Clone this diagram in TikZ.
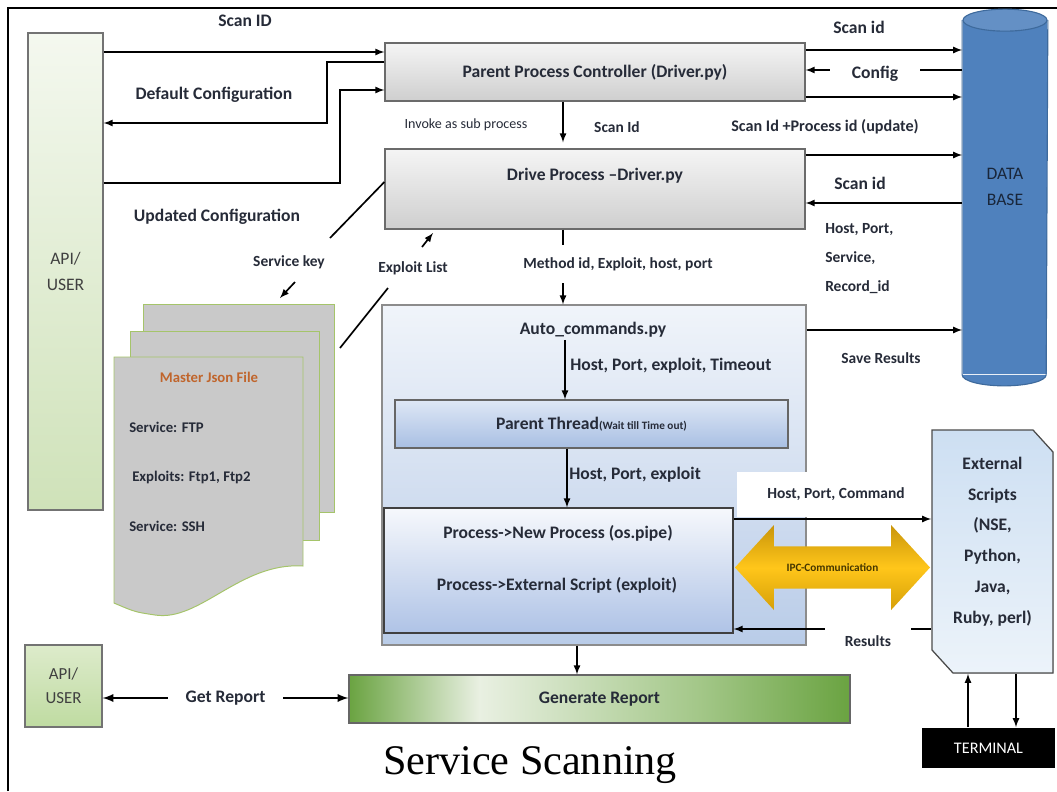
\documentclass[tikz,border=0pt]{standalone}
\usepackage{fontspec}
\setmainfont{Carlito}
\newfontfamily\titlefont{Liberation Serif}
\usetikzlibrary{positioning,shapes.arrows}
\definecolor{txt}{HTML}{262B38}
\definecolor{dbblue}{HTML}{4F81BD}
\definecolor{dbedge}{HTML}{3E6A9C}
\definecolor{jsonorange}{HTML}{C0652C}
\definecolor{jsonedge}{HTML}{A5C46A}
\definecolor{grdark}{HTML}{6AA341}
\definecolor{grlight}{HTML}{E9F0E2}
\definecolor{grmid}{HTML}{A3C788}
\pgfdeclarehorizontalshading{grshade}{100bp}{color(0bp)=(grdark); color(25bp)=(grdark); color(38bp)=(grlight); color(60bp)=(grmid); color(75bp)=(grdark); color(100bp)=(grdark)}
\begin{document}
\begin{tikzpicture}[x=0.25mm,y=-0.25mm,line width=1.2pt,
  arr/.style={-latex},
  arrtwo/.style={latex-latex,line width=1.6pt},
  bigl/.style={font=\fontsize{12.5}{15}\selectfont\bfseries,text=txt,inner sep=1pt},
  lbl/.style={font=\fontsize{11}{13}\selectfont\bfseries,text=txt,inner sep=1pt},
  smalll/.style={font=\fontsize{10}{12}\selectfont,text=txt,inner sep=1pt},
  greybox/.style={draw=black!58,line width=0.9pt,top color=black!4,bottom color=black!19,minimum width=105mm},
  apibox/.style={draw=black!55,line width=0.9pt,top color={rgb,255:red,244;green,248;blue,239},bottom color={rgb,255:red,207;green,226;blue,185},align=center,font=\fontsize{12.5}{18}\selectfont,text=black!75},
  autobox/.style={draw=black!45,line width=0.9pt,top color={rgb,255:red,240;green,244;blue,250},bottom color={rgb,255:red,185;green,204;blue,232}},
  thrbox/.style={draw=black!60,line width=0.9pt,top color={rgb,255:red,222;green,231;blue,245},bottom color={rgb,255:red,168;green,191;blue,227}},
  procbox/.style={draw=black!75,line width=0.9pt,top color={rgb,255:red,246;green,248;blue,252},bottom color={rgb,255:red,175;green,195;blue,230}},
  extshape/.style={draw=black!70,line width=0.9pt,top color={rgb,255:red,205;green,223;blue,242},bottom color={rgb,255:red,236;green,243;blue,250}},
  exttext/.style={align=center,font=\fontsize{12.5}{22}\selectfont\bfseries,text=txt},
  ipcarrow/.style={double arrow,double arrow head extend=5.25mm,double arrow tip angle=95,minimum height=48.75mm,minimum width=21.25mm,inner xsep=0pt,inner ysep=4mm,top color={rgb,255:red,201;green,149;blue,10},bottom color={rgb,255:red,214;green,160;blue,8},middle color={rgb,255:red,255;green,198;blue,26},font=\fontsize{8}{9}\selectfont\bfseries,text={rgb,255:red,70;green,55;blue,0}},
  jsonpage/.style={fill=black!21,draw=jsonedge,line width=0.7pt},
  jsontext/.style={font=\fontsize{10.5}{12}\selectfont\bfseries,text=txt,inner sep=1pt,anchor=west}]
\useasboundingbox (0,0) rectangle (1057,791);
\draw[line width=0.7mm] (8,791) -- (8,8) -- (1057,8);

% boxes
\node[apibox,minimum width=18.75mm,minimum height=119.25mm] (api) at (65.5,271.5) {API/\\USER};
\node[greybox,minimum height=14.5mm,bigl] (ppc) at (595,72) {Parent Process Controller (Driver.py)};
\node[greybox,minimum height=20mm] (drv) at (595,189) {};
\node[bigl] (drvtxt) at (595,176) {Drive Process –Driver.py};

% data base
\node[fill=dbblue,minimum width=21mm,minimum height=88.25mm,inner sep=0pt] (db) at (1005,197.5) {};
\fill[dbblue] (db.south west) arc (180:360:10.5mm and 2.75mm) -- cycle;
\draw[dbedge,line width=0.8pt] (db.north west) -- (db.south west) arc (180:360:10.5mm and 2.75mm) -- (db.north east);
\draw[dbedge,line width=0.8pt,fill=dbblue!88!white] (db.north) ellipse (10.5mm and 2.75mm);
\node[font=\fontsize{12.5}{18}\selectfont,text={rgb,255:red,25;green,38;blue,58},align=center] (dbtxt) at (1005,187) {DATA\\BASE};

% master json file
\filldraw[jsonpage] (143,304) rectangle (334,512);
\filldraw[jsonpage] (130,331) rectangle (319,540);
\filldraw[jsonpage] (114,357) -- (303,357) -- (303,566) .. controls (240,562) and (200,622) .. (155,615) .. controls (135,612) .. (114,603) -- cycle;
\node[font=\fontsize{10.5}{12}\selectfont\bfseries,text=jsonorange] (jsontitle) at (209,377) {Master Json File};
\node[jsontext] (jsonA) at (127,427) {Service: FTP};
\node[jsontext] (jsonB) at (130,477) {Exploits: Ftp1, Ftp2};
\node[jsontext] (jsonC) at (127,526) {Service: SSH};

% auto commands
\node[autobox,minimum width=106mm,minimum height=85mm] (auto) at (594,475) {};
\node[bigl] (autotxt) at (593,330) {Auto\_commands.py};
\node[thrbox,minimum width=98.25mm,minimum height=12mm,bigl] (thr) at (591.5,424) {Parent Thread{\fontsize{8}{9}\selectfont(Wait till Time out)}};
\node[fill=white,minimum width=49.5mm,minimum height=11.25mm,lbl] (hpc) at (836,494.5) {Host, Port, Command};
\node[procbox,minimum width=87.25mm,minimum height=31.25mm] (proc) at (558.5,570.5) {};
\node[bigl] (procA) at (558,533) {Process->New Process (os.pipe)};
\node[bigl] (procB) at (557,585) {Process->External Script (exploit)};
\node[ipcarrow] (ipc) at (832.5,567.5) {IPC-Communication};

% external side
\filldraw[extshape] (932,430) -- (1033,430) -- (1053,452) -- (1053,673) -- (953,673) -- (932,650) -- cycle;
\node[exttext,minimum width=30.25mm,minimum height=60.75mm] (ext) at (992.5,551.5) {External\\Scripts\\(NSE,\\Python,\\Java,\\Ruby, perl)\\[-6pt]\mbox{}};
\node[fill=black,minimum width=33.25mm,minimum height=10mm,text=white,font=\fontsize{11.5}{13}\selectfont] (term) at (988.5,748) {TERMINAL};
\node[shading=grshade,draw=black!60,line width=0.9pt,minimum width=125.25mm,minimum height=12mm,bigl] (gr) at (599.5,699) {Generate Report};
\node[apibox,minimum width=19.25mm,minimum height=20.5mm,top color={rgb,255:red,221;green,235;blue,203},bottom color={rgb,255:red,191;green,219;blue,161},font=\fontsize{12}{17}\selectfont] (apis) at (63.5,686) {API/\\USER};

% api and parent controller
\draw[arr] (api.east |- 0,52) -- (ppc.west |- 0,52);
\node[bigl] (scanid) at (245,21) {Scan ID};
\draw[arr] (ppc.west |- 0,62) -- (327,62) -- (327,123) -- (api.east |- 0,123);
\node[bigl] (defcfg) at (214,95) {Default Configuration};
\draw[arr] (api.east |- 0,183) -- (340,183) -- (340,90) -- (ppc.west |- 0,90);
\node[bigl] (updcfg) at (217,217) {Updated Configuration};

% data base links
\draw[arr] (ppc.east |- 0,50) -- (db.west |- 0,50);
\node[bigl] (dbscan) at (859,27) {Scan id};
\draw[arr] (db.west |- 0,70) -- (ppc.east |- 0,70);
\node[bigl,fill=white,inner xsep=5.5mm] (cfg) at (875,74) {Config};
\draw[arr] (ppc.east |- 0,97) -- (db.west |- 0,97);
\node[lbl,font=\fontsize{11.5}{13}\selectfont\bfseries] (upd) at (825,127) {Scan Id +Process id (update)};
\draw[arr] (drv.east |- 0,155) -- (db.west |- 0,155);
\node[bigl] (dbscantwo) at (860,183) {Scan id};
\draw[arr] (db.west |- 0,203) -- (drv.east |- 0,203);
\node[lbl,anchor=west,align=left,font=\fontsize{11}{20.5}\selectfont\bfseries] (hps) at (823,258.5) {Host, Port,\\Service,\\Record\_id};
\draw[arr] (auto.east |- 0,330) -- (db.west |- 0,330);
\node[lbl] (save) at (881,358) {Save Results};

% controller to driver to auto
\draw[arr,shorten >=1.5mm] (563,0 |- ppc.south) -- (563,0 |- drv.north);
\node[smalll] (invoke) at (466,125) {Invoke as sub process};
\node[lbl] (scanidtwo) at (617,127) {Scan Id};
\draw[arr] (563,0 |- drv.south) -- (563,0 |- auto.north);
\node[lbl,fill=white,inner ysep=3mm] (meth) at (618,264) {Method id, Exploit, host, port};

% json links
\coordinate (skmid) at (330,238);
\coordinate (skfoot) at (295,282);
\coordinate (sktip) at (280,298);
\draw (drv.west |- 0,182) -- (skmid);
\node[lbl] (skey) at (289,262) {Service key};
\draw[arr] (skfoot) -- (sktip);
\coordinate (elfoot) at (340,348);
\coordinate (elmid) at (388,288);
\coordinate (elstart) at (422,247);
\coordinate (eltip) at (433,233);
\draw (elfoot) -- (elmid);
\node[lbl] (elist) at (413,268) {Exploit List};
\draw[arr] (elstart) -- (eltip);

% inside auto
\draw[arr] (565,0 |- autotxt.south) -- (565,0 |- thr.north);
\node[bigl,anchor=west] (hpet) at (568,366) {Host, Port, exploit, Timeout};
\draw[arr] (567,0 |- thr.south) -- (567,0 |- proc.north);
\node[bigl,anchor=west] (hpe) at (567,475) {Host, Port, exploit};

% process and external scripts
\draw[arr] (proc.east |- 0,519) -- (ext.west |- 0,519);
\draw[arr] (ext.west |- 0,629) -- (proc.east |- 0,629);
\node[lbl,fill=white,minimum height=8mm,inner xsep=5mm] (res) at (868,641) {Results};
\draw[arr] (968,0 |- term.north) -- (968,0 |- ext.south);
\draw[arr] (1016,0 |- ext.south) -- (1016,0 |- term.north);

% report
\draw[arr] (577,0 |- auto.south) -- (577,0 |- gr.north);
\draw[arrtwo] (apis.east |- 0,698) -- (gr.west |- 0,698) node[midway,bigl,fill=white,inner xsep=4.5mm] (getrep) {Get Report};

\node[font=\titlefont\fontsize{30}{36}\selectfont,text=black] (title) at (530,765) {Service Scanning};
\end{tikzpicture}
\end{document}
